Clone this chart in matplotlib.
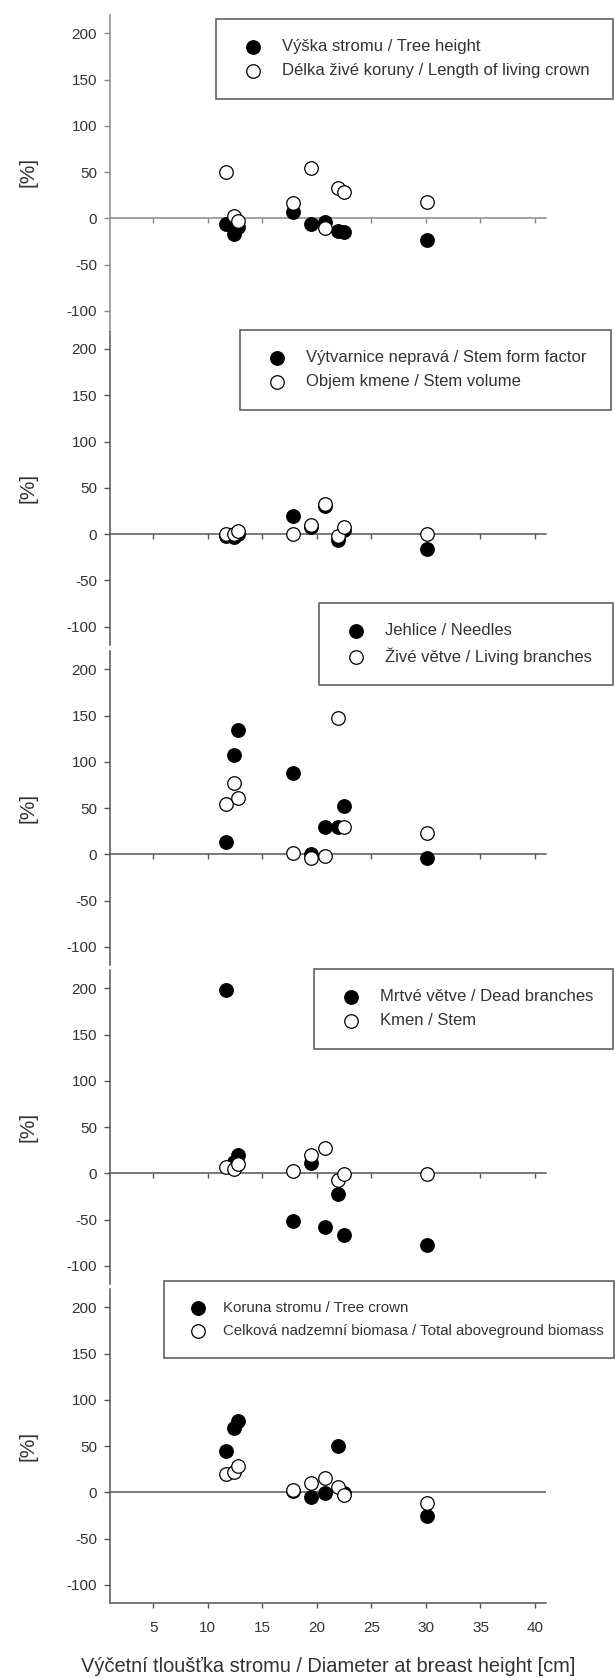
import numpy as np
import matplotlib
matplotlib.use('Agg')
import matplotlib.pyplot as plt

plt.rcParams['font.family'] = ['Liberation Sans', 'DejaVu Sans']
plt.rcParams['axes.unicode_minus'] = False

# diameter at breast height of the sampled trees [cm]
dbh = [11.7, 12.4, 12.8, 17.8, 19.5, 20.7, 21.9, 22.5, 30.1]

tree_height = [-6, -17, -9, 7, -6, -4, -14, -15, -24]
crown_length = [50, 2, -3, 16, 54, -11, 33, 28, 18]

form_factor = [-2, -3, 0, 19, 8, 30, -6, 4, -16]
stem_volume = [0, 0, 3, 0, 10, 32, -2, 8, 0]

needles = [13, 107, 134, 88, 0, 30, 30, 52, -4]
living_branches = [54, 77, 61, 1, -4, -2, 147, 30, 23]

dead_branches = [198, 12, 20, -52, 11, -58, -22, -67, -78]
stem = [7, 5, 10, 3, 20, 27, -7, -1, -1]

tree_crown = [45, 70, 77, 1, -5, -1, 50, -1, -26]
total_biomass = [20, 22, 28, 3, 10, 15, 6, -3, -12]

panels = [
    (tree_height, crown_length,
     'Výška stromu / Tree height', 'Délka živé koruny / Length of living crown'),
    (form_factor, stem_volume,
     'Výtvarnice nepravá / Stem form factor', 'Objem kmene / Stem volume'),
    (needles, living_branches,
     'Jehlice / Needles', 'Živé větve / Living branches'),
    (dead_branches, stem,
     'Mrtvé větve / Dead branches', 'Kmen / Stem'),
    (tree_crown, total_biomass,
     'Koruna stromu / Tree crown',
     'Celková nadzemní biomasa / Total aboveground biomass'),
]

x_ticks = [5, 10, 15, 20, 25, 30, 35, 40]
y_ticks = [-100, -50, 0, 50, 100, 150, 200]

W, H = 615.0, 1678.0
panel_tops = [14.8, 330.5, 650.8, 969.8, 1288.8]
panel_h = 314.5
ax_left, ax_w = 109.7, 436.2
# legend boxes: left, top, right (pixels)
legend_boxes = [(216, 19, 613), (240, 330, 611), (319, 603, 613),
                (314, 969, 613), (164, 1281, 614)]
# fontsize, borderpad, labelspacing, handlelength, handletextpad
legend_style = [(12, 1.22, 0.53, 2.0, 0.74)] * 4 + [(10.8, 1.36, 0.55, 1.82, 0.74)]

text_col = '#333333'


def main():
    fig = plt.figure(figsize=(W / 100, H / 100), dpi=100)
    fig.patch.set_facecolor('white')

    for i, (filled, hollow, lab_f, lab_o) in enumerate(panels):
        top = panel_tops[i]
        ax = fig.add_axes([ax_left / W, 1 - (top + panel_h) / H,
                           ax_w / W, panel_h / H])
        ax.set_facecolor('none')
        line_col = '#8a8a8a' if i == 0 else '#555555'

        ax.scatter(dbh, filled, s=95, facecolor='black', edgecolor='black',
                   linewidth=0.9, zorder=3, label=lab_f)
        ax.scatter(dbh, hollow, s=95, facecolor='white', edgecolor='black',
                   linewidth=0.9, zorder=4, label=lab_o)

        ax.set_xlim(1, 41)
        ax.set_ylim(-120, 220)
        ax.set_xticks(x_ticks)
        ax.set_yticks(y_ticks)
        ax.spines['top'].set_visible(False)
        ax.spines['right'].set_visible(False)
        ax.spines['left'].set_color(line_col)
        ax.spines['bottom'].set_color(line_col)
        ax.spines['left'].set_linewidth(1.1)
        ax.spines['bottom'].set_linewidth(1.1)
        ax.tick_params(axis='y', direction='out', length=4, width=1,
                       color=line_col, labelsize=11, labelcolor=text_col, pad=5)

        if i < 4:
            ax.spines['bottom'].set_position(('data', 0))
            ax.tick_params(axis='x', direction='out', length=3.5, width=1,
                           color=line_col, labelbottom=False)
        else:
            ax.axhline(0, color='#555555', linewidth=1.1, zorder=1)
            ax.tick_params(axis='x', direction='out', length=3.5, width=1,
                           color=line_col, labelsize=11, labelcolor=text_col, pad=9)
            ax.set_xlabel('Výčetní tloušťka stromu / Diameter at breast height [cm]',
                          fontsize=14.4, color=text_col)
            ax.xaxis.label.set_va('center')
            ax.xaxis.set_label_coords(0.5, -(1666.7 - (top + panel_h)) / panel_h)

        ax.set_ylabel('[%]', fontsize=15, color=text_col)
        ax.yaxis.label.set_va('center')
        ax.yaxis.label.set_ha('center')
        ax.yaxis.set_label_coords((28 - ax_left) / ax_w, 0.5)

        lx, ly, rx = legend_boxes[i]
        fs, bp, ls, hl, htp = legend_style[i]
        leg = ax.legend(loc='upper left',
                        bbox_to_anchor=(lx / W, 1 - ly / H, (rx - lx) / W, 0),
                        bbox_transform=fig.transFigure, mode='expand',
                        borderaxespad=0, fancybox=False, framealpha=1,
                        edgecolor='#555555', fontsize=fs,
                        scatterpoints=1, borderpad=bp, labelspacing=ls,
                        handlelength=hl, handletextpad=htp)
        leg.get_frame().set_linewidth(1.1)
        for t in leg.get_texts():
            t.set_color(text_col)
        leg.set_zorder(10)

    fig.savefig('out.png', dpi=100, facecolor='white')


if __name__ == '__main__':
    main()
